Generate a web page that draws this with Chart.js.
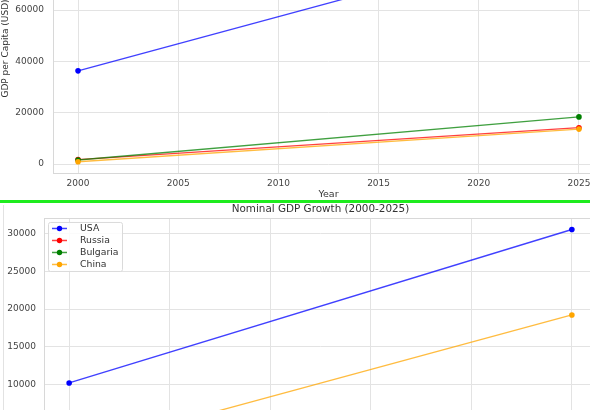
<!DOCTYPE html>
<html><head><meta charset="utf-8">
<script src="https://cdn.jsdelivr.net/npm/chart.js"></script>
<style>
html,body{margin:0;padding:0;background:#fff;width:590px;height:410px;overflow:hidden;position:relative;}
#top{position:absolute;left:0;top:0;width:590px;height:200px;overflow:hidden;}
#top canvas{position:absolute;left:0;top:-100px;}
#bot{position:absolute;left:0;top:202px;width:590px;height:208px;overflow:hidden;}
#bot canvas{position:absolute;left:0;top:0;}
#sep{position:absolute;left:0;top:199.5px;width:590px;height:3px;background:#1eec1e;}
#frame{position:absolute;left:3px;top:205px;width:1px;height:205px;background:#e2e2e2;}
</style></head>
<body>
<div id="top"><canvas id="c1" width="613" height="305"></canvas></div>
<div id="frame"></div>
<div id="bot"><canvas id="c2" width="607" height="300"></canvas></div>
<div id="sep"></div>
<script>
// ---- data ----
const years = [2000, 2025];
const countries = ['USA', 'Russia', 'Bulgaria', 'China'];
const countryColors = ['#0000ff', '#ff0000', '#008000', '#ffa500'];

const perCapitaUSA = [36330, 89100];
const perCapitaRussia = [1771, 14200];
const perCapitaBulgaria = [1621, 18400];
const perCapitaChina = [959, 13650];

const nominalUSA = [10250, 30510];
const nominalRussia = [260, 2080];
const nominalBulgaria = [13.2, 110];
const nominalChina = [1211, 19230];

const yearTicks = [2000, 2005, 2010, 2015, 2020, 2025];
const perCapitaTicks = [0, 20000, 40000, 60000, 80000];
const nominalTicks = [0, 5000, 10000, 15000, 20000, 25000, 30000];

// ---- helpers ----
Chart.defaults.font.family = "'DejaVu Sans', sans-serif";
function rgba(hex, a) {
  const n = parseInt(hex.slice(1), 16);
  return `rgba(${(n >> 16) & 255},${(n >> 8) & 255},${n & 255},${a})`;
}
function makeDatasets(series) {
  return series.map((vals, i) => ({
    label: countries[i],
    data: years.map((y, k) => ({ x: y, y: vals[k] })),
    borderColor: rgba(countryColors[i], 0.75),
    backgroundColor: countryColors[i],
    pointBackgroundColor: countryColors[i],
    pointBorderWidth: 0,
    pointRadius: 2.8,
    pointHoverRadius: 2.8,
    borderWidth: 1.4,
    tension: 0,
    order: series.length - i
  }));
}
function range(series) {
  const all = series.flat();
  const lo = Math.min(...all), hi = Math.max(...all);
  const pad = 0.05 * (hi - lo);
  return [lo - pad, hi + pad];
}
const frame = {
  id: 'frame',
  beforeDatasetsDraw(chart) {
    const { ctx, chartArea: a } = chart;
    ctx.save();
    ctx.strokeStyle = '#d8d8d8';
    ctx.lineWidth = 1;
    ctx.strokeRect(Math.round(a.left) + 0.5, Math.round(a.top) + 0.5,
      Math.round(a.right - a.left), Math.round(a.bottom - a.top));
    ctx.restore();
  }
};
const innerLegend = {
  id: 'innerLegend',
  afterDatasetsDraw(chart, args, opts) {
    if (!opts || !opts.show) return;
    const { ctx, chartArea: a } = chart;
    const x0 = a.left + 4, y0 = a.top + 4, w = 74, h = 49;
    ctx.save();
    ctx.beginPath();
    if (ctx.roundRect) ctx.roundRect(x0 + 0.5, y0 + 0.5, w, h, 2); else ctx.rect(x0 + 0.5, y0 + 0.5, w, h);
    ctx.fillStyle = 'rgba(255,255,255,0.85)';
    ctx.fill();
    ctx.strokeStyle = '#dadada';
    ctx.lineWidth = 1;
    ctx.stroke();
    ctx.font = "9.3px 'DejaVu Sans'";
    ctx.textBaseline = 'middle';
    chart.data.datasets.forEach((d, i) => {
      const cy = y0 + 6.5 + i * 12;
      ctx.strokeStyle = d.borderColor;
      ctx.lineWidth = 1.5;
      ctx.beginPath(); ctx.moveTo(x0 + 4, cy); ctx.lineTo(x0 + 19, cy); ctx.stroke();
      ctx.fillStyle = d.pointBackgroundColor;
      ctx.beginPath(); ctx.arc(x0 + 11.5, cy, 2.7, 0, Math.PI * 2); ctx.fill();
      ctx.fillStyle = '#333';
      ctx.fillText(d.label, x0 + 32, cy);
    });
    ctx.restore();
  }
};
function makeChart(id, series, yTicks, o) {
  const [yMin, yMax] = range(series);
  return new Chart(document.getElementById(id), {
    type: 'line',
    data: { datasets: makeDatasets(series) },
    options: {
      responsive: false, animation: false, devicePixelRatio: 1,
      layout: { padding: o.padding },
      plugins: {
        legend: { display: false }, tooltip: { enabled: false },
        title: o.title ? { display: true, text: o.title, fullSize: false, color: '#333',
          font: { size: 10.4, weight: 'normal' }, padding: { top: 1, bottom: 2.5 } } : { display: false },
        innerLegend: { show: !!o.legend }
      },
      scales: {
        x: {
          type: 'linear', min: years[0] - 1.25, max: years[years.length - 1] + 1.25,
          afterBuildTicks: s => { s.ticks = yearTicks.map(v => ({ value: v })); },
          afterFit: s => { s.height = o.xHeight; },
          grid: { color: '#e3e3e3', drawTicks: false },
          border: { display: false },
          ticks: { autoSkip: false, maxRotation: 0, padding: o.xPad, color: '#444',
            font: { size: 9 }, callback: v => String(v) },
          title: o.xTitle ? { display: true, text: o.xTitle, color: '#333', font: { size: 9.5 },
            padding: { top: 0, bottom: 4.5 } } : { display: false }
        },
        y: {
          min: yMin, max: yMax,
          afterBuildTicks: s => { s.ticks = yTicks.map(v => ({ value: v })); },
          afterFit: s => { s.width = o.yWidth; },
          grid: { color: '#e3e3e3', drawTicks: false },
          border: { display: false },
          ticks: { padding: o.yPad, color: '#444', font: { size: 9 }, callback: v => String(v) },
          title: o.yTitle ? { display: true, text: o.yTitle, color: '#333', font: { size: 9 },
            padding: { top: 0, bottom: 0 } } : { display: false }
        }
      }
    },
    plugins: [frame, innerLegend]
  });
}

makeChart('c1', [perCapitaUSA, perCapitaRussia, perCapitaBulgaria, perCapitaChina], perCapitaTicks, {
  padding: { top: 24, right: 9, bottom: 0, left: 0 },
  xHeight: 32, yWidth: 53, xPad: 5, yPad: 9,
  xTitle: 'Year', yTitle: 'GDP per Capita (USD)'
});
makeChart('c2', [nominalUSA, nominalRussia, nominalBulgaria, nominalChina], nominalTicks, {
  padding: { top: 0, right: 10, bottom: 0, left: 0 },
  xHeight: 30, yWidth: 44, xPad: 5, yPad: 8,
  title: 'Nominal GDP Growth (2000-2025)', legend: true
});
</script>
</body></html>
